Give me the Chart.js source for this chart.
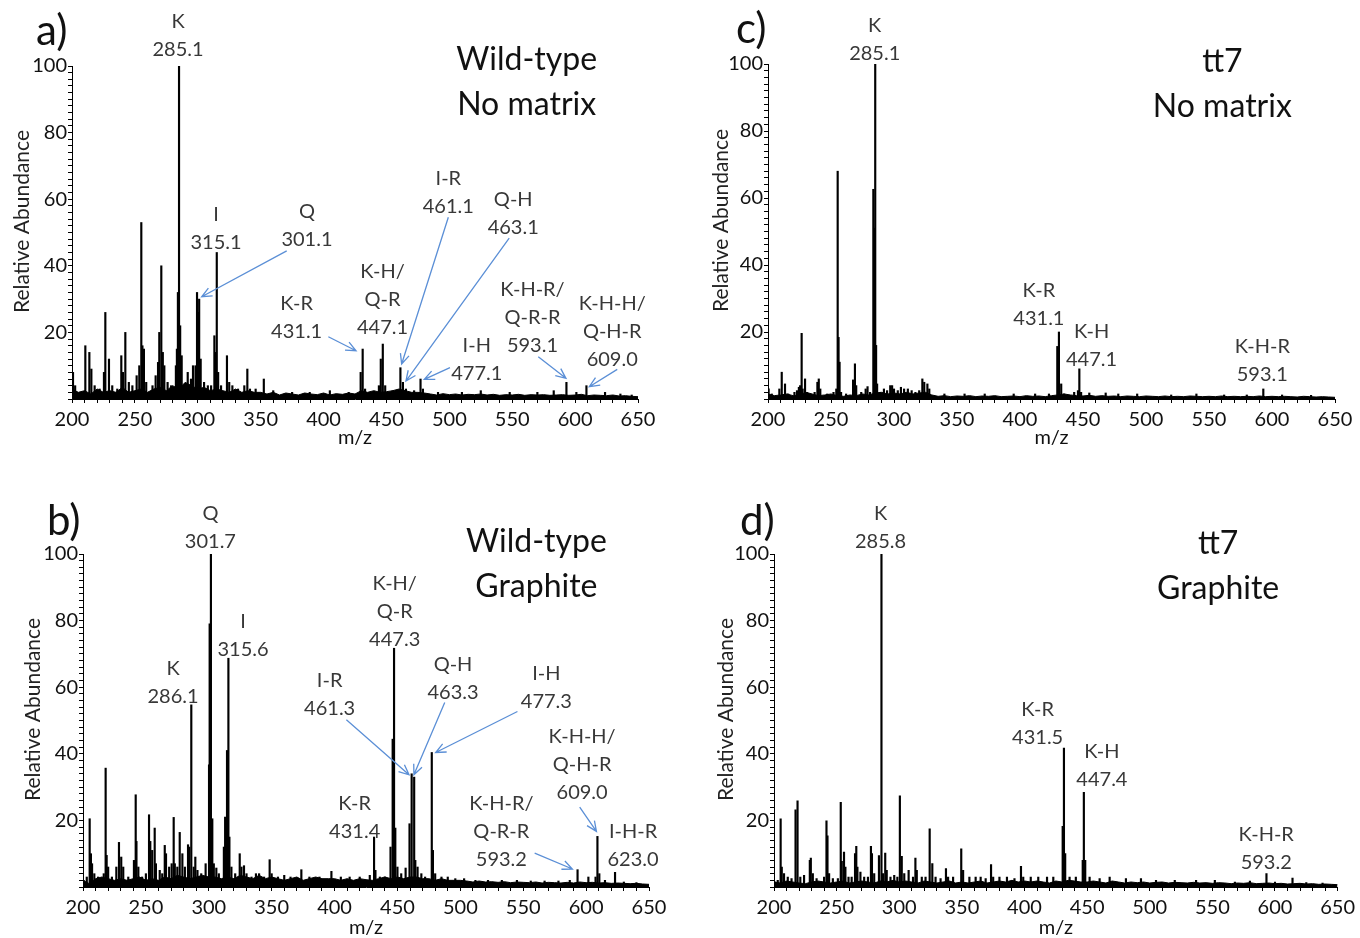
<!DOCTYPE html>
<html>
<head>
<meta charset="utf-8">
<script src="https://cdn.jsdelivr.net/npm/chart.js@4.4.0/dist/chart.umd.min.js"></script>
<style>
  html, body { margin: 0; padding: 0; background: #fff; }
  #page { position: relative; width: 1360px; height: 938px; overflow: hidden; font-family: Lato, "Open Sans", sans-serif; }
  .panel { position: absolute; width: 680px; height: 469px; }
  .letter { position: absolute; font-size: 42px; line-height: 42px; color: #111; }
</style>
</head>
<body>
<div id="page">
  <div class="panel" style="left:0;top:0"><canvas id="chartA" width="680" height="469"></canvas></div>
  <div class="panel" style="left:0;top:469px"><canvas id="chartB" width="680" height="469"></canvas></div>
  <div class="panel" style="left:680px;top:0"><canvas id="chartC" width="680" height="469"></canvas></div>
  <div class="panel" style="left:680px;top:469px"><canvas id="chartD" width="680" height="469"></canvas></div>
  <div class="letter" style="left:36px;top:8px">a)</div>
  <div class="letter" style="left:47px;top:498px">b)</div>
  <div class="letter" style="left:736px;top:6px">c)</div>
  <div class="letter" style="left:740px;top:498px">d)</div>
</div>
<script>
// peaks are [m/z, relative abundance %]; baselines are sampled every 5 m/z from 200
const BASE_START = 200;
const BASE_STEP = 5;

// a) wild-type, no matrix
const peaksA = [
  [200.8, 8], [202.5, 4], [210.6, 16], [213.8, 14], [215.4, 9], [218, 4], [222, 3], [225.4, 8],
  [226.5, 26], [229.4, 12], [232, 4], [236, 3], [239.2, 13], [240.5, 8], [242.4, 20], [245.2, 5],
  [248, 4], [251.4, 7], [253.5, 10], [255.1, 53], [256, 16], [257.2, 15], [259, 5], [264, 4],
  [266.5, 7], [268.4, 11], [269.4, 20], [271, 40], [272.2, 14], [273.4, 10], [276, 5], [278.8, 4],
  [282.6, 10], [283.4, 15], [284.2, 32], [285.1, 100], [286, 22], [287.2, 13], [289.5, 4], [292, 8],
  [294.6, 6], [296.2, 10], [298.2, 10], [299.4, 32], [300.4, 26], [301.1, 30], [302.3, 12], [305, 5],
  [308, 4], [310.6, 4], [313.2, 19], [314.2, 14], [315.1, 44], [316.2, 8], [318.5, 4], [323.2, 13],
  [325, 5], [327.5, 4], [332, 3], [337, 4], [339.4, 9], [341.5, 3], [346, 3], [352.5, 6],
  [360, 2.5], [375, 2], [389, 2], [405, 2.5], [420, 2], [429.5, 8], [431.1, 15], [433, 3],
  [444, 4], [445.5, 12], [447.1, 16.5], [449, 4], [455, 2.5], [461.1, 9.4], [463.1, 5], [465.5, 3],
  [472, 2.5], [477.1, 6], [479, 3], [491, 2], [510, 2], [525, 2.5], [548, 2], [570, 2],
  [583, 2.5], [593.1, 5], [601, 2], [609.0, 4], [623.8, 2], [636, 1.5], [645, 1.2]
];
const baseA = [
  3, 2, 2.5, 1.5, 3, 2, 2.5, 2, 3.5, 2, 2.5, 3, 2, 3, 3.5, 2.5, 4, 3, 5, 4, 3, 3.5, 2.5, 3, 2.5, 2, 3, 2, 2.5, 2,
  2, 1.5, 2, 1.2, 1.8, 1.5, 1.2, 1.8, 1.5, 1.3, 1.8, 1.2, 1.6, 1.4, 1.8, 1.5,
  2.5, 2, 2.5, 2, 2.2, 2.5, 3, 2.5, 2, 2, 1.8,
  1.5, 1.2, 1.6, 1.3, 1.5, 1.2, 1.4, 1.3, 1.5, 1.2, 1.4, 1.1, 1.3, 1.2, 1.4, 1.1, 1.3, 1.2, 1.3, 1.1,
  1.2, 1.3, 1.1, 1.2, 1.4, 1.0, 1.2, 1.1, 1.0, 1.2, 0.9, 1.0, 0.8, 0.7
];

// b) wild-type, graphite
const peaksB = [
  [200.5, 2], [203, 3], [205.3, 20.5], [206.3, 10], [207.2, 7], [209, 4], [212, 3], [216.5, 4],
  [218, 35.7], [218.8, 9.5], [220, 6], [223, 3], [226.5, 6], [228.6, 13.4], [230.4, 9], [232, 6],
  [236, 3], [240.5, 8], [241.9, 27.7], [242.5, 13.7], [244, 6], [247, 3], [250, 4], [252.5, 21.7],
  [253.5, 13.7], [255, 11], [257, 17.7], [258, 7], [261, 5], [263, 4], [265, 12.5], [266, 10],
  [268.5, 6], [270.5, 7], [272.1, 20.9], [273, 7], [275, 6], [276.9, 16.4], [279, 10], [281, 6],
  [283.5, 12.7], [284.5, 12], [286.1, 54.7], [288, 6], [289.3, 9], [291, 5], [294, 4], [297.5, 7],
  [300.2, 36.7], [300.7, 79], [301.7, 100], [302.8, 20.5], [304, 7], [306, 5.7], [308, 4], [312, 12],
  [313, 21], [314.5, 41], [315.6, 68.7], [316.4, 15], [318, 6], [321, 4], [324.6, 10], [326, 6],
  [328, 6.4], [330, 4], [334, 3], [337.5, 4], [340, 4], [344, 3], [348.4, 8.2], [350, 4],
  [355, 3], [360, 3.5], [365, 3], [373.6, 5.2], [380, 3], [388, 3], [397.5, 4.7], [405, 3],
  [412, 3], [420, 3], [428, 3.5], [431.4, 15], [432.5, 5], [436, 3], [440, 3], [444.5, 12],
  [446.2, 44.4], [447.3, 71.7], [448.3, 17.7], [450, 6], [453, 4], [456.5, 5.7], [459.6, 19], [461.3, 34],
  [463.3, 33], [464.2, 8], [466, 6], [469, 4], [472, 3], [477.3, 40.4], [478.2, 11], [480, 4],
  [485, 3], [490, 3], [496, 2.5], [503, 2.5], [512, 2], [522, 2], [533, 2], [545, 2],
  [556, 1.8], [567, 1.8], [578, 1.8], [587, 2], [593.2, 5.2], [601.8, 3], [607.5, 3], [609.0, 15.2],
  [610.5, 4], [615, 2], [623.0, 4.4], [630, 1.5], [640, 1.3]
];
const baseB = [
  2, 1, 2.5, 3, 2.5, 2, 2.5, 2, 2.5, 3, 2, 2.5, 2, 3, 2.5, 3.5, 3, 2.5, 3, 3.5,
  3, 3, 2.5, 3, 2.5, 3.5, 3, 2.5, 3.5, 2.5, 3, 2.5, 2, 2.5, 3, 2, 2.5, 3, 2.5, 2.5,
  2.5, 2, 2.5, 2, 2.5, 2.2, 2, 2.5, 3, 2.5, 3, 2.5, 3, 3, 2.5, 2.5, 2, 2.5, 2, 2,
  2, 1.8, 1.5, 1.8, 1.5, 1.6, 1.4, 1.6, 1.3, 1.5, 1.4, 1.3, 1.5, 1.2, 1.4, 1.3, 1.2, 1.4, 1.2, 1.5,
  1.3, 1.4, 1.2, 1.3, 1.1, 1.2, 1.1, 1.0, 1.1, 0.9, 0.8
];

// c) tt7, no matrix
const peaksC = [
  [200.5, 3], [203, 1.5], [209, 3], [210.9, 8], [213.5, 4.5], [216, 1.5], [221, 2], [223, 2.5],
  [224.5, 3.5], [225.5, 4], [226.7, 19.6], [227.5, 3], [229.4, 6], [231, 2], [237, 2], [239.2, 5],
  [240.3, 6], [241.5, 3], [247, 1.5], [252, 2], [254.2, 3], [255.3, 68], [256, 18.4], [256.8, 11],
  [258, 2], [262, 1.5], [267.5, 5.7], [269, 10.5], [270, 4], [274, 2], [277.5, 3], [279, 3.7],
  [281, 2], [283.6, 62.6], [284.2, 51], [285.1, 100], [285.8, 16], [286.6, 4.5], [289, 2], [292, 3],
  [294.5, 2.5], [297, 4], [298.5, 4], [300, 3], [303, 2.5], [305.5, 3.5], [308, 3], [311, 3],
  [314, 2.5], [317, 2], [320, 2.5], [322.5, 6], [324, 5], [326.5, 4.5], [328, 3], [340, 1.5],
  [356, 1.5], [372, 1.5], [395, 1.5], [412, 1.5], [423, 1.5], [429.6, 15.7], [430.9, 20], [432.7, 4.5],
  [435, 1.5], [443, 2], [446, 2.5], [447.1, 9], [448.5, 2], [455, 1.8], [468, 1.8], [478, 1.5],
  [493, 1.5], [520, 1.2], [540, 1.5], [562, 1.2], [580, 1.2], [593.1, 3], [608, 1.2], [631, 1.1]
];
const baseC = [
  1.5, 1, 1.2, 1.5, 1, 1.2, 2, 1.5, 1, 1.2, 1.5, 1, 0.8, 1.2, 1, 1.5, 1.2, 1.8, 2, 1.5, 1.8, 1.5, 2, 1.5, 1.8, 2,
  1.2, 0.8, 1, 0.7, 0.9, 0.8, 1, 0.7, 0.9, 0.8, 1, 0.7, 0.8, 0.9, 0.7, 1, 0.8, 0.9, 0.7, 1,
  1.2, 1.5, 1.2, 1, 0.9, 1.1, 0.8, 1, 0.8, 0.9, 0.7, 0.9, 0.8, 0.7, 0.9, 0.8, 0.7, 0.9, 0.7, 0.8,
  0.7, 0.9, 0.8, 0.7, 0.8, 0.7, 0.9, 0.7, 0.8, 0.7, 0.8, 0.7, 0.9, 0.7, 0.8, 0.7, 0.8, 0.7, 0.6, 0.8,
  0.7, 0.6, 0.7, 0.6, 0.5
];

// d) tt7, graphite
const peaksD = [
  [201, 1.5], [203, 2], [205.3, 20.5], [206.2, 6], [208, 4], [211, 3], [214, 2.5], [217.2, 23.2],
  [218.8, 25.9], [221, 3], [224, 3.5], [228.6, 8], [229.4, 8.7], [231, 4], [234, 2.5], [240, 3],
  [241.9, 19.9], [242.7, 15.4], [244, 4], [247, 2.5], [251, 2.5], [253.3, 25.4], [254.1, 7.7], [255.9, 10.5],
  [257, 6], [259.5, 3], [262, 3], [264.7, 10], [265.7, 12.2], [266.6, 6], [269, 4.5], [272, 3],
  [275, 3], [277.4, 12.2], [278.2, 10], [280, 4], [283.8, 9.4], [285.8, 100], [287, 4], [288.8, 10.2],
  [290, 5], [293, 3], [296, 3.5], [298.5, 3], [300.5, 27.4], [302, 9.2], [304, 4], [307.5, 5],
  [311, 3], [312.9, 8.7], [314, 5], [318, 3], [321, 3], [324.3, 17.5], [326.4, 7], [329, 3],
  [333, 2.5], [337.3, 5.5], [339, 3], [343, 3], [349.5, 11.5], [351, 5], [356, 3], [361, 3],
  [365, 3], [369, 2.5], [373.3, 6.7], [375, 3], [380, 3], [386, 3], [392, 2.5], [397.2, 6.2],
  [399, 3], [405, 3], [411, 3], [418, 3], [423, 3], [430.5, 18.2], [431.5, 41.7], [432.5, 10],
  [436, 3], [441, 3], [446.5, 8], [447.4, 28.4], [448.5, 8], [452, 3], [460, 2.5], [468, 3],
  [481, 2.5], [493, 2.5], [505, 2], [520, 2], [537, 2], [552, 2], [568, 1.5], [580, 1.8],
  [593.2, 4], [600, 1.5], [614, 2.7], [625, 1.3], [638, 1.2]
];
const baseD = [
  1.5, 1.2, 1.8, 1.5, 1.2, 1, 1.5, 1.8, 1.5, 1.2, 1.5, 1.8, 1.2, 1.5, 1.8, 1.5, 1.2, 1.8, 1.5, 2,
  1.5, 1.8, 1.5, 1.2, 1.8, 1.5, 1.2, 1.5, 1.8, 1.2, 1.5, 1.2, 1.5, 1.8, 1.2, 1.5, 1.8, 1.5, 2, 1.5,
  1.8, 1.5, 1.8, 1.5, 1.2, 1.8, 1.5, 2, 1.8, 1.5,
  1.5, 1.8, 1.5, 1.2, 1.8, 1.5, 1.2, 1.5, 1.3, 1.5, 1.2, 1.4, 1.5, 1.2, 1.4, 1.3, 1.2, 1.4, 1.2, 1.3,
  1.1, 1.3, 1.2, 1.0, 1.2, 1.1, 1.3, 1.0, 1.1, 1.2, 1.0, 1.1, 0.9, 1.0, 1.1, 0.9, 1.0, 0.8, 0.9, 0.8, 0.7
];

// peak labels: text lines, anchor [m/z, %] of first line, optional arrow [m/z, %, m/z, %]
const notesA = [
  { text: ['K', '285.1'], at: [284.3, 113.2] },
  { text: ['I', '315.1'], at: [314.5, 55.3] },
  { text: ['Q', '301.1'], at: [386.8, 56.2], arrow: [370.7, 44.5, 303.1, 30.7] },
  { text: ['K-R', '431.1'], at: [378.6, 28.7], arrow: [403.8, 18.7, 425.8, 14.5] },
  { text: ['K-H/', 'Q-R', '447.1'], at: [446.9, 38.2] },
  { text: ['I-R', '461.1'], at: [499.2, 66.3], arrow: [499.2, 54.6, 462.1, 10.5] },
  { text: ['Q-H', '463.1'], at: [550.8, 59.8], arrow: [547.6, 48.3, 465.5, 5.4] },
  { text: ['I-H', '477.1'], at: [521.8, 16.2], arrow: [500.5, 9.4, 480.1, 5.9] },
  { text: ['K-H-R/', 'Q-R-R', '593.1'], at: [566.1, 32.9], arrow: [570.7, 12.7, 592.7, 6.2] },
  { text: ['K-H-H/', 'Q-H-R', '609.0'], at: [629.5, 28.7], arrow: [633.5, 8.9, 611.3, 3.7] }
];
const notesB = [
  { text: ['Q', '301.7'], at: [301.3, 112.2] },
  { text: ['I', '315.6'], at: [327.2, 79.7] },
  { text: ['K', '286.1'], at: [271.6, 65.7] },
  { text: ['I-R', '461.3'], at: [396.1, 61.9], arrow: [409.4, 50.2, 459.2, 33.7] },
  { text: ['K-H/', 'Q-R', '447.3'], at: [447.8, 91.2] },
  { text: ['Q-H', '463.3'], at: [494.2, 66.7], arrow: [487.6, 55.4, 463.1, 33.7] },
  { text: ['I-H', '477.3'], at: [568.4, 64.2], arrow: [545.4, 52.7, 480.4, 40.4] },
  { text: ['K-R', '431.4'], at: [416.0, 25.2] },
  { text: ['K-H-R/', 'Q-R-R', '593.2'], at: [532.6, 25.2], arrow: [559.1, 10.2, 589.1, 5.4] },
  { text: ['K-H-H/', 'Q-H-R', '609.0'], at: [596.8, 45.2], arrow: [594.9, 24, 608.2, 16.7] },
  { text: ['I-H-R', '623.0'], at: [637.3, 16.7] }
];
const notesC = [
  { text: ['K', '285.1'], at: [284.7, 111.6] },
  { text: ['K-R', '431.1'], at: [415.0, 32.5] },
  { text: ['K-H', '447.1'], at: [456.8, 20.1] },
  { text: ['K-H-R', '593.1'], at: [592.3, 15.8] }
];
const notesD = [
  { text: ['K', '285.8'], at: [285.1, 112.2] },
  { text: ['K-R', '431.5'], at: [410.5, 53.2] },
  { text: ['K-H', '447.4'], at: [461.8, 40.7] },
  { text: ['K-H-R', '593.2'], at: [593.0, 15.7] }
];

const titleA = { text: ['Wild-type', 'No matrix'], at: [561.5, 101.8] };
const titleB = { text: ['Wild-type', 'Graphite'], at: [560.5, 103.7] };
const titleC = { text: ['tt7', 'No matrix'], at: [560.6, 100.7] };
const titleD = { text: ['tt7', 'Graphite'], at: [554.6, 103.2] };

const FONT = 'Lato';
const ARROW_COLOR = '#5b8fd6';

function drawArrow(ctx, x1, y1, x2, y2) {
    const a = Math.atan2(y2 - y1, x2 - x1);
    const h = 11, w = 0.42;
    ctx.beginPath();
    ctx.moveTo(x1, y1);
    ctx.lineTo(x2, y2);
    ctx.moveTo(x2 - h * Math.cos(a - w), y2 - h * Math.sin(a - w));
    ctx.lineTo(x2, y2);
    ctx.lineTo(x2 - h * Math.cos(a + w), y2 - h * Math.sin(a + w));
    ctx.stroke();
}

// draws the y title, peak labels, arrows and the panel title through the chart scales
function notesPlugin(notes, title, L) {
    return {
        id: 'notes',
        afterDraw(chart) {
            const ctx = chart.ctx;
            const xs = chart.scales.x;
            const ys = chart.scales.y;
            const area = chart.chartArea;
            ctx.save();
            ctx.textAlign = 'center';
            ctx.textBaseline = 'middle';

            // y axis title sits a little above the middle of the axis
            ctx.save();
            ctx.translate(L.yTitleX, (area.top + area.bottom) / 2 - 11);
            ctx.rotate(-Math.PI / 2);
            ctx.font = '21px ' + FONT;
            ctx.fillStyle = '#222';
            ctx.fillText('Relative Abundance', 0, 0);
            ctx.restore();

            ctx.strokeStyle = ARROW_COLOR;
            ctx.lineWidth = 1.3;
            notes.forEach(n => {
                if (!n.arrow) return;
                const [m1, v1, m2, v2] = n.arrow;
                drawArrow(ctx, xs.getPixelForValue(m1), ys.getPixelForValue(v1),
                          xs.getPixelForValue(m2), ys.getPixelForValue(v2));
            });

            ctx.font = '20px ' + FONT;
            ctx.fillStyle = '#383838';
            notes.forEach(n => {
                const px = xs.getPixelForValue(n.at[0]);
                const py = ys.getPixelForValue(n.at[1]);
                n.text.forEach((line, i) => ctx.fillText(line, px, py + i * 28));
            });

            ctx.font = '32px ' + FONT;
            ctx.fillStyle = '#111';
            const tx = xs.getPixelForValue(title.at[0]);
            const ty = ys.getPixelForValue(title.at[1]);
            title.text.forEach((line, i) => ctx.fillText(line, tx, ty + i * 45));
            ctx.restore();
        }
    };
}

function makePanel(id, peaks, base, notes, title, L) {
    const ctx = document.getElementById(id).getContext('2d');
    return new Chart(ctx, {
        type: 'bar',
        data: {
            datasets: [{
                type: 'bar',
                data: peaks.map(p => ({ x: p[0], y: p[1] })),
                backgroundColor: '#000',
                borderWidth: 0,
                barThickness: 1.5,
                grouped: false
            }, {
                type: 'line',
                data: base.map((v, i) => ({ x: BASE_START + i * BASE_STEP, y: v })),
                borderColor: '#000',
                borderWidth: 1,
                backgroundColor: '#000',
                fill: 'origin',
                pointRadius: 0,
                tension: 0
            }]
        },
        options: {
            responsive: false,
            maintainAspectRatio: false,
            animation: false,
            events: [],
            layout: { padding: { left: 0, right: L.padRight, top: L.padTop, bottom: 0 } },
            plugins: {
                legend: { display: false },
                tooltip: { enabled: false }
            },
            scales: {
                x: {
                    type: 'linear',
                    min: 200,
                    max: 650,
                    offset: false,
                    border: { display: true, color: '#000', width: 1 },
                    grid: { display: true, drawOnChartArea: false, drawTicks: true, tickLength: 4, color: '#000', offset: false },
                    ticks: {
                        stepSize: 10,
                        autoSkip: false,
                        maxRotation: 0,
                        padding: 5,
                        color: '#111',
                        font: { family: FONT, size: 20 },
                        callback: v => Math.round(v) % 50 === 0 ? String(v) : ''
                    },
                    title: {
                        display: true,
                        text: 'm/z',
                        color: '#111',
                        font: { family: FONT, size: 20, lineHeight: 1 },
                        padding: { top: 0, bottom: L.xTitlePad }
                    },
                    afterFit: s => { s.height = L.xHeight; }
                },
                y: {
                    min: 0,
                    max: 100,
                    border: { display: true, color: '#000', width: 1 },
                    grid: { display: true, drawOnChartArea: false, drawTicks: true, tickLength: 4, color: '#000' },
                    ticks: {
                        stepSize: 2,
                        autoSkip: false,
                        padding: 1,
                        color: '#111',
                        font: { family: FONT, size: 20 },
                        callback: v => (v > 0 && Math.round(v) % 20 === 0) ? String(v) : ''
                    },
                    afterFit: s => { s.width = L.yWidth; }
                }
            }
        },
        plugins: [notesPlugin(notes, title, L)]
    });
}

makePanel('chartA', peaksA, baseA, notesA, titleA,
    { yWidth: 72, xHeight: 70, padRight: 42, padTop: 66, xTitlePad: 21, yTitleX: 22 });
makePanel('chartB', peaksB, baseB, notesB, titleB,
    { yWidth: 83, xHeight: 51, padRight: 31, padTop: 85, xTitlePad: 0, yTitleX: 33 });
makePanel('chartC', peaksC, baseC, notesC, titleC,
    { yWidth: 88, xHeight: 70, padRight: 25, padTop: 64, xTitlePad: 21, yTitleX: 41 });
makePanel('chartD', peaksD, baseD, notesD, titleD,
    { yWidth: 94, xHeight: 51, padRight: 20, padTop: 85, xTitlePad: 0, yTitleX: 46 });
</script>
</body>
</html>
